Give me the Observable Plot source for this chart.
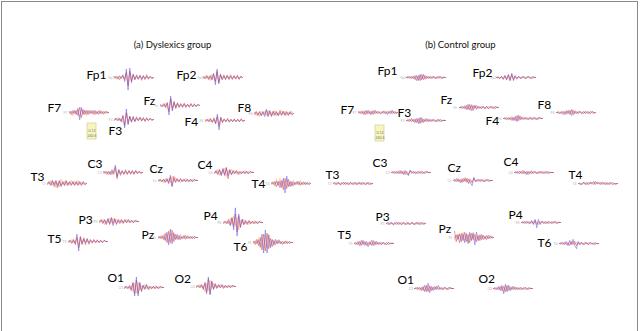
<!DOCTYPE html>
<html><head><meta charset="utf-8">
<script src="https://cdn.jsdelivr.net/npm/d3@7"></script>
<script src="https://cdn.jsdelivr.net/npm/@observablehq/plot@0.6"></script>
<style>
body{margin:0;background:#fff}
#wrap{position:relative;width:640px;height:331px;overflow:hidden}
#border{position:absolute;left:1px;top:1px;width:635px;height:360px;border:1px solid #8a8a8a;pointer-events:none}
</style>
</head><body><div id="wrap"><div id="chart"></div><div id="border"></div></div>
<script>
// ---------- data ----------
const channels = ["Fp1","Fp2","F7","F3","Fz","F4","F8","T3","C3","Cz","C4","T4","T5","P3","Pz","P4","T6","O1","O2"];
const groupTitles = ["(a) Dyslexics group", "(b) Control group"];
const boxTexts = ["0.12", "240.6"];

// Dyslexics group, estimated amplitudes (µV) per channel
const dysBlue = [
 [0,1,-1,1,-1,2,-4,8,-12,9,-5,3,-2,2,-1,2,-2,1,-1,2,-1,1,-1,0],
 [0,-1,1,-1,2,-2,4,-7,8,-5,3,-2,1,-2,2,-1,2,-1,1,-1,2,-1,1,0],
 [0,1,-1,2,-2,4,-7,5,-2,2,-1,2,-1,1,-1,2,-1,1,-1,1,-1,1,0,0],
 [0,1,-1,1,-2,3,-8,10,-5,3,-2,3,-2,1,-1,2,-1,1,-1,1,-1,1,0,0],
 [0,-1,1,-2,3,-9,9,-5,3,-2,2,-2,1,-1,2,-1,1,-1,1,-1,1,-1,1,0],
 [0,1,-1,1,-1,2,-3,6,-9,3,-1,1,-1,1,-1,1,-1,1,-1,1,-1,1,0,0],
 [0,1,-1,2,-2,1,-3,4,-2,3,-2,2,-1,2,-2,1,-2,2,-1,1,-2,1,-1,0],
 [0,1,-2,2,-1,3,-4,2,-2,1,-2,2,-1,2,-1,1,-2,1,-1,2,-1,1,-1,0],
 [0,1,-1,1,-2,2,-1,7,-4,2,-2,1,-1,2,-1,1,-1,2,-1,1,-1,1,0,0],
 [0,1,-1,1,-1,2,-2,5,-5,2,-2,1,-1,1,-1,1,-1,1,-1,1,-1,1,0,0],
 [0,1,-2,2,-3,3,-2,4,-3,2,-2,1,-1,1,-1,1,-1,1,-1,1,-1,1,0,0],
 [0,1,-1,2,-2,2,-4,5,-9,7,-3,2,-2,1,-1,2,-1,1,-1,1,-1,1,-1,0],
 [0,1,-1,1,-2,7,-9,4,-2,2,-1,3,-2,1,-1,1,-1,1,-1,1,-1,1,0,0],
 [0,1,-1,2,-2,3,-2,3,-4,2,-2,1,-1,2,-1,1,-1,1,-1,1,-1,1,0,0],
 [0,1,-1,1,-3,5,-7,8,-6,4,-2,3,-2,1,-1,2,-1,1,-1,1,-1,1,0,0],
 [0,1,-1,1,-3,4,-7,14,-13,8,-4,3,-2,2,-1,1,-1,1,-1,1,-1,1,0,0],
 [0,1,-1,2,-4,8,-10,12,-10,7,-5,3,-2,3,-1,2,-1,1,-1,1,-1,1,0,0],
 [0,1,-1,1,-2,4,-8,10,-8,5,-3,2,-2,3,-1,1,-1,1,-1,1,-1,1,0,0],
 [0,1,-1,1,-2,3,-7,9,-8,5,-3,2,-2,1,-1,2,-1,1,-1,1,-1,1,0,0]
];
const dysRed = [
 [1,-1,1,-2,1,1,-2,5,-8,6,-3,3,-2,1,-2,2,-1,2,-2,1,-1,1,-1,0],
 [1,-1,2,-2,1,-2,3,-4,6,-6,3,-2,2,-1,2,-2,1,-2,2,-1,1,-2,1,0],
 [1,-2,2,-1,2,-3,5,-5,3,-2,2,-2,2,-1,2,-2,1,-2,2,-1,1,-1,1,0],
 [-1,1,-1,1,-2,4,-6,6,-4,3,-2,2,-2,2,-1,2,-1,2,-2,1,-1,1,-1,0],
 [1,-1,2,-1,2,-6,6,-3,4,-3,2,-1,2,-2,1,-2,1,-1,2,-1,1,-1,1,0],
 [-1,1,-1,2,-2,1,-3,4,-6,3,-2,1,-1,2,-1,1,-1,1,-1,1,-1,1,-1,0],
 [-1,2,-2,1,-2,2,-1,3,-3,2,-3,2,-2,1,-2,3,-1,2,-2,2,-1,2,-1,0],
 [-1,2,-1,3,-3,2,-2,3,-3,2,-1,3,-2,1,-2,2,-1,2,-2,1,-2,2,-1,0],
 [1,-1,1,-2,1,-2,2,5,-6,3,-1,2,-2,1,-2,2,-1,1,-2,2,-1,1,-1,0],
 [-1,1,-1,1,-2,1,-3,3,-6,4,-1,2,-1,2,-1,1,-1,1,-1,1,-1,1,0,0],
 [-1,2,-1,3,-2,4,-3,5,-6,3,-2,2,-1,2,-2,1,-1,1,-1,1,-1,1,0,0],
 [1,-1,2,-3,2,-4,3,-6,5,-5,4,-3,2,-2,1,-1,2,-2,1,-1,1,-1,1,0],
 [-1,1,-2,2,-3,4,-6,5,-3,3,-3,2,-1,2,-1,2,-1,1,-1,1,-1,1,0,0],
 [-1,2,-2,1,-3,2,-3,4,-2,3,-3,2,-2,1,-2,2,-1,2,-1,1,-1,1,0,0],
 [1,-1,2,-2,4,-5,6,-5,7,-4,3,-2,2,-2,1,-1,2,-1,1,-1,1,-1,0,0],
 [-1,1,-1,3,-2,5,-4,8,-9,6,-5,3,-2,1,-2,2,-1,1,-1,1,-1,1,0,0],
 [1,-2,3,-3,5,-7,8,-8,9,-6,4,-4,2,-2,2,-1,1,-2,1,-1,1,-1,0,0],
 [-1,1,-1,2,-3,5,-6,7,-6,4,-4,2,-1,2,-2,1,-1,1,-1,1,-1,1,0,0],
 [-1,1,-1,2,-3,4,-5,7,-7,5,-2,3,-1,2,-1,1,-2,1,-1,1,-1,1,0,0]
];
const dysOrange = [
 [-1,1,-2,2,-1,3,-1,4,-6,5,-4,2,-1,3,-1,1,-3,1,-1,3,-2,1,0,0],
 [-1,2,-1,1,-3,3,-1,-3,5,-4,2,-1,3,-2,1,-1,3,-1,1,-2,2,-1,1,0],
 [-1,1,-3,1,-1,2,-4,3,-1,2,-3,1,-1,2,-2,1,-1,2,-1,1,-2,1,-1,0],
 [1,-1,2,-1,1,-3,-4,7,-2,3,-3,1,-1,3,-1,1,-2,1,-1,2,-1,1,-1,0],
 [-1,1,-1,2,-3,-4,7,-5,2,-1,3,-1,1,-1,2,-1,1,-2,1,-1,2,-1,1,0],
 [1,-1,2,-1,-1,3,-1,3,-4,1,-2,2,-1,1,-2,1,-1,2,-1,1,-1,2,-1,0],
 [1,-2,1,-3,2,-1,2,-2,3,-1,1,-2,3,-2,1,-1,3,-1,2,-2,1,-1,2,0],
 [1,-1,3,-2,2,-4,1,-3,4,-1,2,-2,1,-1,3,-1,2,-1,3,-1,1,-1,1,0],
 [-1,1,-2,1,-1,3,-2,3,-4,2,-3,1,-1,3,-1,1,-2,1,-1,2,-1,1,-1,0],
 [1,-1,1,-2,2,-1,2,-2,4,-1,3,-1,1,-2,1,-1,2,-1,1,-1,1,-1,1,0],
 [1,-1,3,-3,1,-1,4,-4,2,-1,3,-1,2,-1,1,-2,1,-1,2,-1,1,-1,1,0],
 [-1,2,-3,4,-1,5,-2,3,-4,4,-2,1,-3,3,-1,1,-1,3,-1,2,-1,1,-1,0],
 [1,-1,2,-1,1,2,-4,2,-1,4,-1,1,-3,1,-2,1,-1,2,-1,1,-1,1,0,0],
 [1,-1,2,-3,1,-1,3,-1,3,-1,2,-1,2,-1,1,-1,2,-1,1,-1,1,-1,1,0],
 [-1,1,-1,3,-2,3,-4,4,-3,5,-1,1,-1,3,-1,1,-2,2,-1,1,-1,1,0,0],
 [1,-1,2,-1,4,-2,6,-3,5,-7,2,-1,3,-1,1,-2,1,-1,2,-1,1,-1,1,0],
 [-1,2,-1,4,-5,4,-6,7,-5,8,-3,2,-3,1,-1,3,-1,1,-1,2,-1,1,0,0],
 [1,-1,1,-1,2,-4,4,-5,5,-3,2,-1,3,-1,1,-2,1,-1,2,-1,1,-1,1,0],
 [1,-1,2,-1,1,-5,3,-4,6,-2,3,-1,1,-1,2,-1,1,-1,1,-1,1,-1,1,0]
];

// Control group
const conBlue = [
 [0,0,1,-1,1,-2,2,-3,3,-2,3,-1,1,-1,1,-1,1,0,-1,1,0,-1,0,0],
 [0,0,-1,1,-1,2,-2,2,-3,4,-3,1,-1,1,-1,1,0,-1,1,0,-1,1,0,0],
 [0,1,-1,1,-2,2,-1,1,-2,2,-1,1,0,-1,1,-1,1,-2,1,-1,2,-1,0,0],
 [0,0,1,-1,1,-2,2,-3,3,-2,1,-1,2,-1,1,-1,1,0,-1,1,-1,0,0,0],
 [0,0,1,-1,2,-2,3,-3,2,-1,2,-1,1,-1,1,-1,1,-1,0,1,0,-1,0,0],
 [0,0,-1,1,-1,1,-2,2,-3,3,-1,1,-1,1,0,-1,1,-1,1,0,-1,1,0,0],
 [0,0,-1,1,-2,1,-1,2,-2,3,-2,1,-1,1,0,-1,1,-1,1,0,-1,1,0,0],
 [0,1,-1,1,-1,0,1,-1,1,-1,1,0,-1,1,-1,1,-1,1,0,-1,1,-1,0,0],
 [0,0,1,-1,1,-1,1,-2,2,-1,-3,2,1,-1,1,-1,0,1,-1,0,1,0,0,0],
 [0,1,-1,1,-2,1,-1,2,-2,1,-2,-5,3,-1,1,-1,1,0,-1,1,0,-1,0,0],
 [0,0,1,-1,1,-1,1,-2,1,-1,1,-1,1,0,-1,1,0,-1,1,0,-1,0,0,0],
 [0,-1,0,1,-1,1,-1,1,0,2,-1,1,0,1,-1,1,0,-1,1,0,-1,0,0,0],
 [0,1,-1,2,-2,3,-1,2,-3,1,-2,3,-1,2,-1,1,-1,1,0,-1,1,0,0,0],
 [0,1,-1,1,-1,0,1,-1,1,-1,1,0,-1,1,-1,1,-1,0,1,-1,1,0,-1,0],
 [0,2,-2,3,-4,3,-5,4,-6,5,-3,4,-7,5,-3,2,-2,2,-1,2,-1,1,0,0],
 [0,0,1,-1,1,-1,2,-2,3,-5,3,-2,1,-1,1,-1,1,0,-1,1,0,-1,0,0],
 [0,0,1,-1,2,-2,3,-1,4,-2,-5,2,-1,1,-1,1,0,-1,1,0,-1,1,0,0],
 [0,0,1,-1,1,-2,3,-3,5,-4,2,-2,2,-1,3,-1,1,-1,1,0,-1,1,0,0],
 [0,1,-1,2,-2,3,-5,4,-3,3,-2,2,-1,1,-1,1,-1,0,1,-1,0,1,0,0]
];
const conRed = [
 [0,1,-1,1,-1,2,-3,2,-3,3,-2,2,-1,1,-1,1,0,-1,1,-1,1,0,0,0],
 [0,1,-1,1,-2,1,-2,3,-2,3,-2,2,-1,1,0,-1,1,-1,0,1,0,-1,0,0],
 [1,-1,1,-2,2,-1,2,-2,1,-1,2,-1,1,-1,0,1,-1,1,-1,2,-1,1,-1,0],
 [0,1,-1,2,-1,1,-2,2,-3,2,-2,1,-1,1,-1,1,0,-1,1,-1,1,0,0,0],
 [0,1,-1,1,-2,3,-2,2,-3,2,-1,1,-1,1,0,-1,1,-1,1,0,-1,1,0,0],
 [0,1,0,-1,1,-2,1,-2,3,-2,2,-1,1,0,-1,1,0,-1,1,-1,0,1,0,0],
 [0,1,-1,0,1,-2,2,-1,2,-3,2,-1,1,-1,1,0,-1,1,0,-1,1,0,-1,0],
 [0,-1,1,0,-1,1,-1,1,0,-1,1,-1,1,0,-1,1,0,-1,1,-1,0,1,-1,0],
 [0,1,-1,1,-1,2,-1,1,-2,1,-2,2,-1,1,-1,0,1,-1,1,0,-1,1,0,0],
 [0,-1,2,-1,1,-2,2,-1,2,-3,1,-2,2,-1,0,1,-1,1,-1,0,1,0,0,0],
 [0,1,-1,1,-1,2,-1,1,-2,1,-1,1,0,-1,1,-1,1,0,-1,1,0,0,0,0],
 [0,0,-1,1,0,-1,1,0,1,-1,2,0,1,-1,1,0,-1,1,-1,0,1,0,-1,0],
 [0,-1,2,-2,3,-1,2,-2,1,-1,3,-2,2,-1,1,-1,1,0,-1,1,-1,0,0,0],
 [0,-1,1,0,-1,1,-1,1,0,-1,1,-1,1,0,-1,1,0,-1,1,0,-1,1,0,0],
 [6,-4,3,-5,4,-3,5,-4,3,-5,4,-2,3,-4,2,-3,3,-2,1,-2,2,-1,1,0],
 [0,1,-1,1,0,-1,1,-1,2,-2,1,-1,1,0,-1,1,-1,0,1,-1,1,0,0,0],
 [0,1,-1,1,-1,1,-2,2,-1,2,-2,1,-1,1,0,-1,1,-1,1,0,0,-1,0,0],
 [0,1,-1,1,-2,2,-3,3,-3,2,-2,1,-1,2,-1,1,-1,0,1,-1,1,0,0,0],
 [0,-1,1,-1,2,-2,2,-3,3,-2,1,-1,2,-1,1,-1,1,-1,0,1,-1,0,0,0]
];
const conOrange = [
 [0,-1,1,0,1,-1,1,-2,2,-2,2,-2,1,0,1,-1,1,-1,0,1,-1,0,1,0],
 [0,-1,0,1,-1,2,-1,2,-3,2,-1,1,-2,1,-1,0,1,0,-1,1,-1,0,1,0],
 [0,-1,2,-1,1,-2,1,-1,2,-2,1,0,-1,1,-1,2,-1,0,1,-1,1,0,1,0],
 [0,-1,0,1,-1,2,-1,1,-2,3,-1,2,-1,0,1,-1,1,-1,0,1,0,-1,1,0],
 [0,-1,0,2,-1,1,-2,3,-1,2,-2,1,0,-1,1,0,-1,1,0,-1,1,0,1,0],
 [0,-1,1,0,-1,2,-1,1,-2,2,-1,2,0,-1,1,-1,0,1,-1,1,0,-1,1,0],
 [0,-1,1,-1,0,1,-2,1,-1,2,-1,2,-1,0,1,-1,1,0,-1,1,-1,1,0,0],
 [1,0,-1,1,0,-1,1,0,-1,1,-1,1,0,-1,1,-1,1,0,-1,1,0,-1,1,0],
 [0,-1,0,1,0,-1,2,-1,1,-2,-1,1,0,1,-1,1,-1,0,1,-1,0,1,0,0],
 [1,0,-1,2,-1,2,-1,3,-1,2,-2,-1,1,0,-1,1,0,-1,1,-1,0,1,0,0],
 [0,-1,0,1,0,-1,1,-1,1,-1,2,-1,1,-1,0,1,-1,1,0,-1,1,0,0,0],
 [0,1,-1,0,1,0,-1,1,-1,1,0,1,-1,0,1,-1,1,0,-1,1,0,-1,0,0],
 [1,0,-1,1,-1,2,-2,1,-1,2,-1,1,-2,1,0,1,-1,1,0,-1,1,0,1,0],
 [1,0,-1,1,0,-1,1,0,-1,1,0,-1,1,-1,0,1,-1,1,-1,1,0,-1,1,0],
 [-2,3,-1,4,-2,5,-3,2,-4,3,-2,5,-3,1,-2,3,-1,2,-2,1,-1,2,-1,0],
 [0,-1,0,1,-1,1,-1,1,-1,1,-2,1,0,1,0,-1,1,0,-1,1,0,-1,1,0],
 [0,-1,0,1,0,-1,1,-1,2,-1,1,-1,1,0,-1,1,0,1,-1,0,1,0,0,0],
 [0,-1,0,1,-1,1,-2,2,-2,3,-1,2,-1,1,0,1,-1,1,0,-1,0,1,0,0],
 [0,0,-1,1,-1,2,-3,2,-2,2,-1,1,-1,1,0,-1,1,0,-1,1,0,-1,0,0]
];

// ---------- layout (electrode positions on the page) ----------
const layoutDys = {
 Fp1:[86,75,108,77], Fp2:[176,75,197,77], F7:[47,108,63,112], F3:[108,131,108,119],
 Fz:[143,101,154,105], F4:[184,122,199,120], F8:[237,108,248,113], T3:[30,177,41,183],
 C3:[87,164,97,172], Cz:[149,169,152,180], C4:[197,165,208,172], T4:[251,184,265,183],
 T5:[47,239,62,241], P3:[78,220,93,221], Pz:[141,235,152,237], P4:[203,216,217,222],
 T6:[233,247,247,242], O1:[107,278,118,287], O2:[174,279,190,286]
};
const layoutCon = {
 Fp1:[377,71,400,77], Fp2:[472,73,490,77], F7:[340,110,352,112], F3:[397,113,400,120],
 Fz:[440,100,453,107], F4:[485,121,497,118], F8:[537,105,550,112], T3:[325,175,327,183],
 C3:[372,163,385,172], Cz:[447,168,447,180], C4:[503,162,508,172], T4:[568,175,572,183],
 T5:[337,235,348,243], P3:[375,217,380,223], Pz:[438,229,448,237], P4:[508,215,515,222],
 T6:[537,243,553,243], O1:[397,280,408,288], O2:[478,279,487,288]
};
const titlePos = [[172,44],[460,44]];
const boxPos = [[87,123],[375,125]];
const traceW = 45, tagW = 6, ampK = 1.05;

// ---------- build ----------
const groups = [
 {name:"dys", layout:layoutDys, series:{orange:dysOrange, red:dysRed, blue:dysBlue}},
 {name:"con", layout:layoutCon, series:{orange:conOrange, red:conRed, blue:conBlue}}
];
const lines = {orange:[], red:[], blue:[]};
const labels = [], tags = [];
for (const g of groups) {
  channels.forEach((ch, ci) => {
    const [lx, ly, tx, ty] = g.layout[ch];
    labels.push({ch, x: lx, y: ly});
    tags.push({ch, x: tx, y: ty});
    for (const s of ["orange","red","blue"]) {
      const vals = g.series[s][ci];
      const n = vals.length;
      vals.forEach((v, i) => lines[s].push({
        key: g.name + ch, x: tx + tagW + i * (traceW - tagW) / (n - 1), y: ty - v * ampK
      }));
    }
  });
}
const titles = groupTitles.map((t, i) => ({t, x: titlePos[i][0], y: titlePos[i][1]}));
const boxes = boxPos.map(([x, y]) => ({x1: x, x2: x + 9, y1: y, y2: y + 16}));
const boxLabels = boxPos.flatMap(([x, y]) => boxTexts.map((t, j) => ({t, x: x + 4.5, y: y + 7 + j * 5})));

const colors = {orange:"#ffa95a", red:"#ef3c30", blue:"#5050e8"};

const plot = Plot.plot({
  width: 640, height: 331, margin: 0,
  x: {domain: [0, 640], range: [0, 640], axis: null},
  y: {domain: [0, 331], range: [0, 331], axis: null},
  style: {fontFamily: "Lato, 'Open Sans', sans-serif", background: "#fff"},
  marks: [
    Plot.text(titles, {x: "x", y: "y", text: "t", fontSize: 9.5, fill: "#111"}),
    Plot.rect(boxes, {x1: "x1", x2: "x2", y1: "y1", y2: "y2", fill: "#f8f5c0", stroke: "#c9c68a", strokeWidth: 0.6}),
    Plot.text(boxLabels, {x: "x", y: "y", text: "t", fontSize: 3.5, fill: "#777"}),
    Plot.text(tags, {x: "x", y: "y", text: "ch", fontSize: 3.5, fill: "#b5b5b5", textAnchor: "start"}),
    Plot.line(lines.orange, {x: "x", y: "y", z: "key", stroke: colors.orange, strokeWidth: 0.65, strokeOpacity: 0.85}),
    Plot.line(lines.red, {x: "x", y: "y", z: "key", stroke: colors.red, strokeWidth: 0.65, strokeOpacity: 0.8}),
    Plot.line(lines.blue, {x: "x", y: "y", z: "key", stroke: colors.blue, strokeWidth: 0.65, strokeOpacity: 0.75}),
    Plot.text(labels, {x: "x", y: "y", text: "ch", fontSize: 12, fill: "#000", textAnchor: "start"})
  ]
});
document.getElementById("chart").appendChild(plot);
</script>
</body></html>
